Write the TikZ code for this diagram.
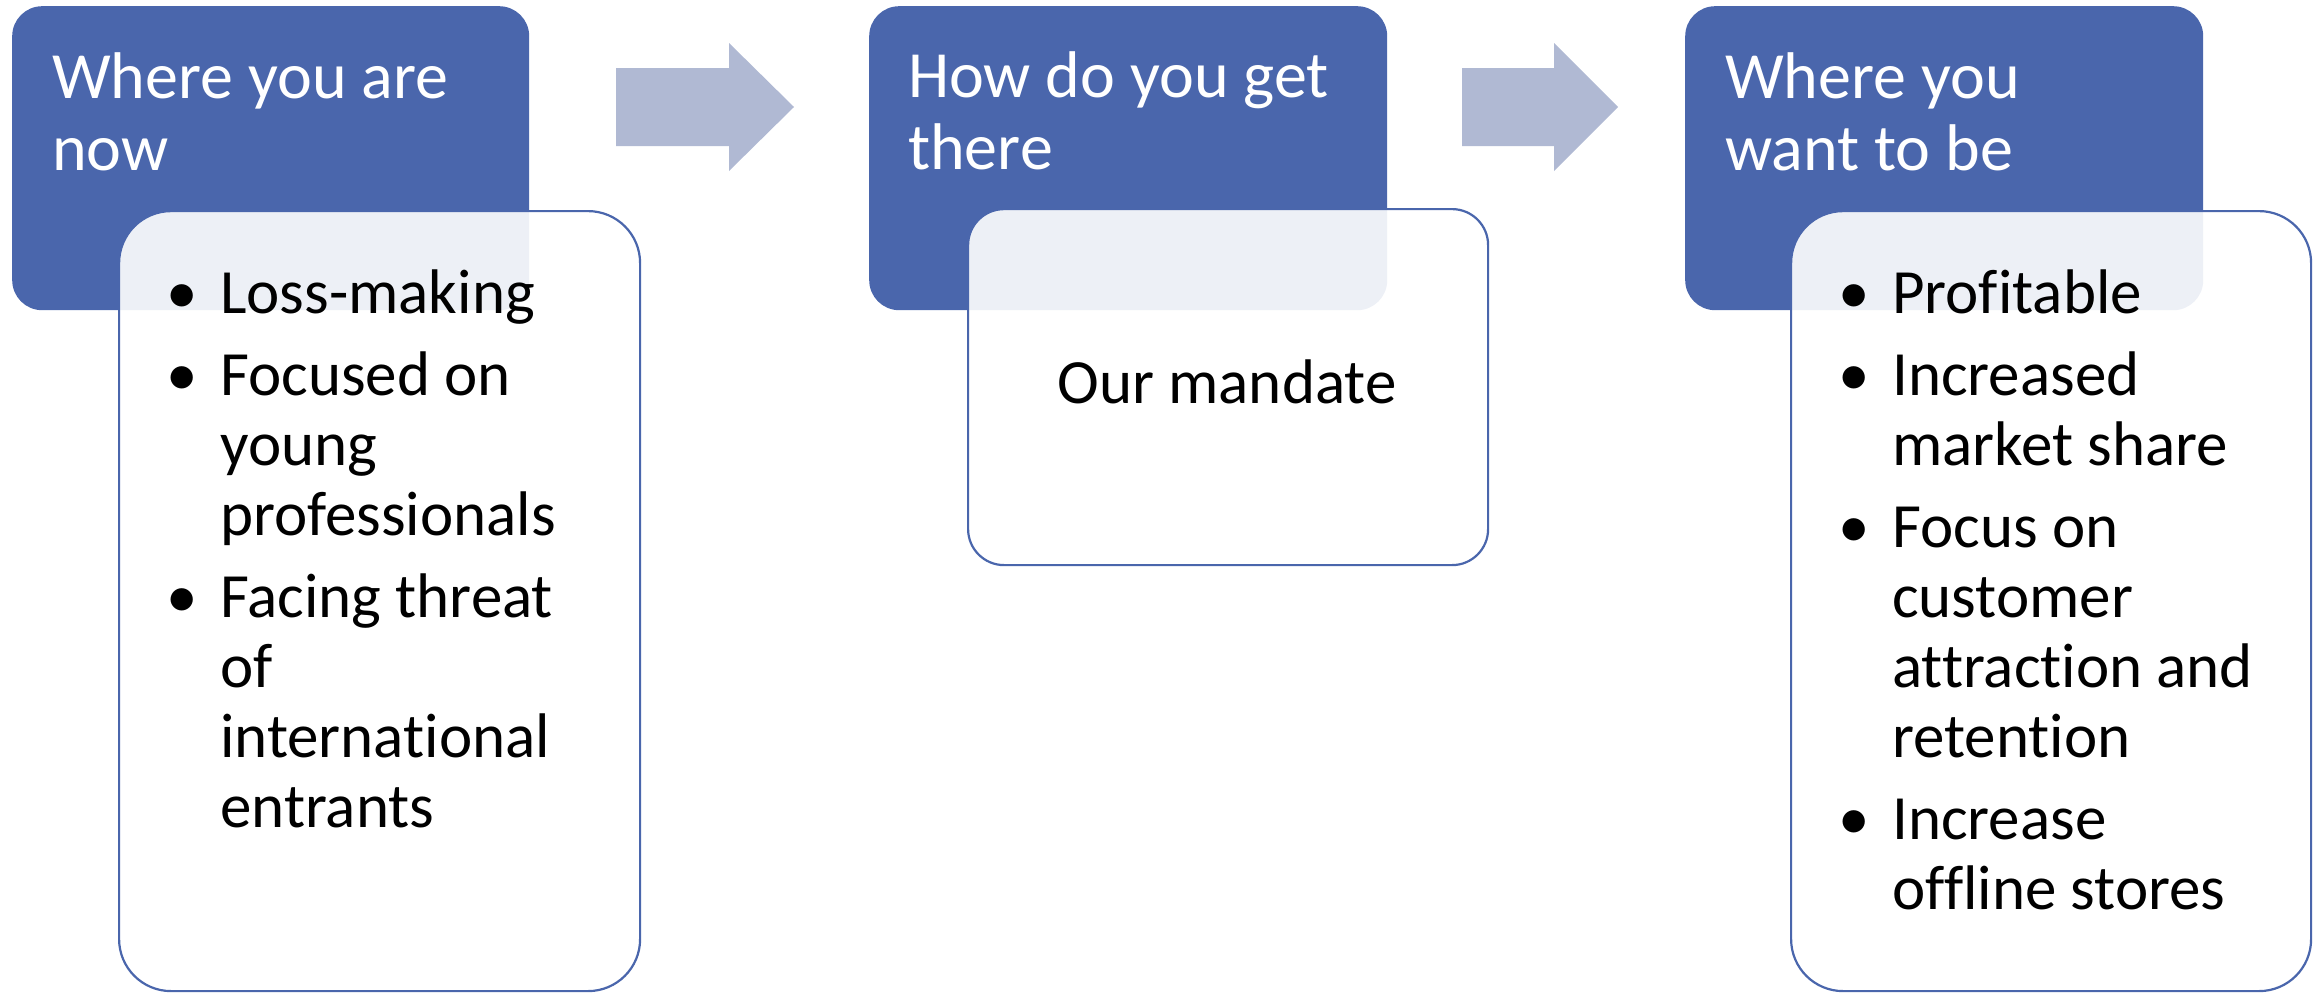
\documentclass[tikz,border=0pt]{standalone}
\usepackage{fontspec}
\setmainfont{Carlito}[Ligatures=NoCommon]
\definecolor{accent}{HTML}{4A66AC}
\definecolor{arrowfill}{HTML}{B0B9D3}

% one bullet entry with a hanging indent; lines inside an entry are split with \newline
\newcommand\listentry[1]{\par\hangindent=54pt\hangafter=1\noindent\makebox[54pt][l]{\textbullet}#1\par}
\newcommand\listblock[1]{\parbox[t]{560pt}{\fontsize{63}{70}\selectfont\parskip=12pt\parindent=0pt\raggedright #1}}
\newcommand\headblock[1]{\parbox[t]{560pt}{\fontsize{66}{72}\selectfont\raggedright #1}}

\tikzset{
  headbox/.style={shape=rectangle, fill=accent, draw=none, rounded corners=30pt,
    anchor=north west, inner sep=0pt},
  listbox/.style={shape=rectangle, fill=white, fill opacity=0.9, draw=accent, line width=2.2pt,
    rounded corners=#1, anchor=north west, inner sep=0pt},
  flowarrow/.style={fill=arrowfill, draw=none},
  headtext/.style={anchor=base west, inner sep=0pt, text=white},
  listtext/.style={anchor=base west, inner sep=0pt, text=black},
}

\begin{document}
\begin{tikzpicture}[x=1pt,y=-1pt]
\useasboundingbox (0,0) rectangle (2318,993);

% header panels
\node[headbox, minimum width=517pt, minimum height=304pt] (h1) at (12,6) {};
\node[headbox, minimum width=518pt, minimum height=304pt] (h2) at (869,6) {};
\node[headbox, minimum width=518pt, minimum height=304pt] (h3) at (1685,6) {};

% content panels laid over the headers
\node[listbox=52pt, minimum width=521pt, minimum height=780pt] (b1) at (118,210) {};
\node[listbox=36pt, minimum width=520pt, minimum height=356pt] (b2) at (967,208) {};
\node[listbox=52pt, minimum width=520pt, minimum height=780pt] (b3) at (1790,210) {};

% block arrows between the stages
\fill[flowarrow] (616,68) -- (729,68) -- (729,43) -- (794,107) -- (729,171) -- (729,146) -- (616,146) -- cycle;
\fill[flowarrow] (1462,68) -- (1554,68) -- (1554,43) -- (1618,107) -- (1554,171) -- (1554,146) -- (1462,146) -- cycle;

% header titles
\node[headtext] (t1) at (52,98) {\headblock{Where you are\\now}};
\node[headtext] (t2) at (908,97) {\headblock{How do you get\\there}};
\node[headtext] (t3) at (1725,98) {\headblock{Where you\\want to be}};

% panel contents
\node[listtext] (l1) at (166,313) {\listblock{%
  \listentry{Loss-making}
  \listentry{Focused on\newline young\newline professionals}
  \listentry{Facing threat\newline of\newline international\newline entrants}}};
\node[anchor=base, inner sep=0pt, font=\fontsize{63}{70}\selectfont] (l2) at (1227,403) {Our mandate};
\node[listtext] (l3) at (1838,313) {\listblock{%
  \listentry{Profitable}
  \listentry{Increased\newline market share}
  \listentry{Focus on\newline customer\newline attraction and\newline retention}
  \listentry{Increase\newline offline stores}}};
\end{tikzpicture}
\end{document}
